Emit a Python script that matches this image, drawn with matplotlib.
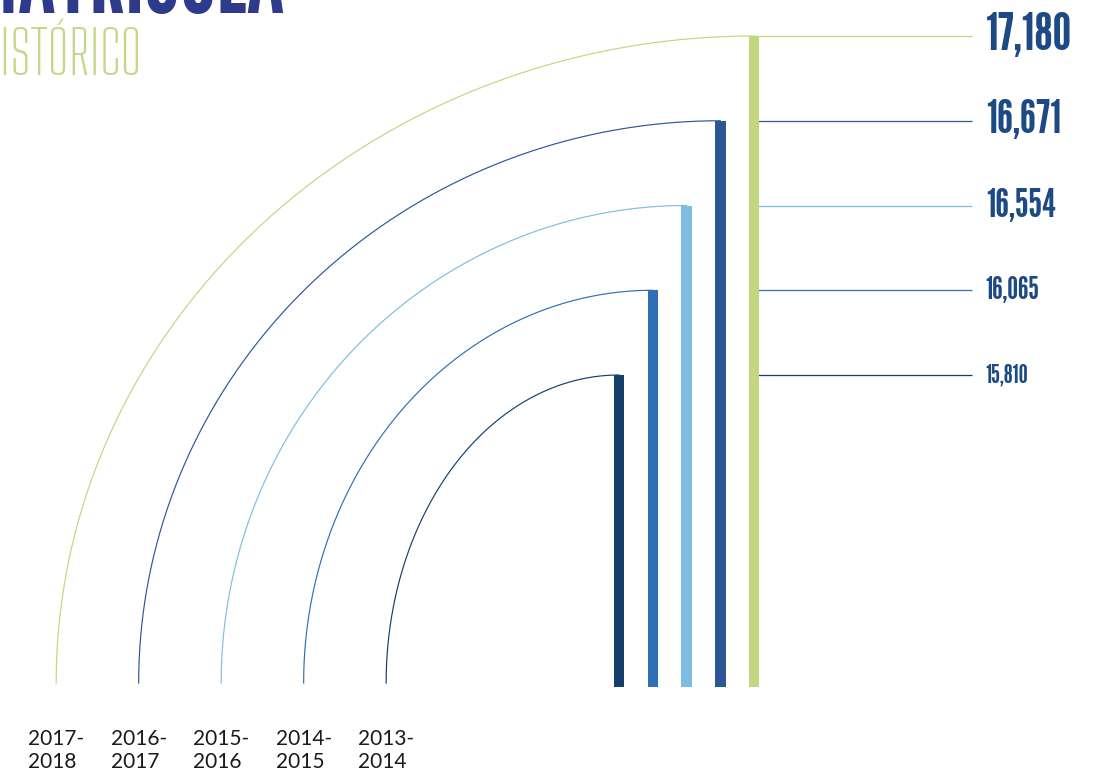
import numpy as np
import matplotlib
matplotlib.use("Agg")
import matplotlib.pyplot as plt
from matplotlib import font_manager as fm

# ---- data ----
periods = ["2013-\n2014", "2014-\n2015", "2015-\n2016", "2016-\n2017", "2017-\n2018"]
enrollment = [15810, 16065, 16554, 16671, 17180]
value_labels = ["15,810", "16,065", "16,554", "16,671", "17,180"]
title_main = "MATRÍCULA"
title_sub = "HISTÓRICO"

# ---- style ----
colors = ["#143f6b", "#2e6fb5", "#7fbde0", "#2c5797", "#c2d77f"]
label_sizes = [18.5, 22, 28.5, 33.5, 38]
num_color = "#1d4a85"

names = {f.name for f in fm.fontManager.ttflist}


def pick(*cands):
    for c in cands:
        if c in names:
            return c
    return "DejaVu Sans"


num_font = pick("League Gothic", "Pathway Gothic One", "Bebas Neue", "Oswald")
thin_font = pick("Big Shoulders Text", "Big Shoulders Display", "Smooch Sans", "Yanone Kaffeesatz")
body_font = pick("Lato", "DejaVu Sans")

W, H = 1104, 771
fig = plt.figure(figsize=(W / 100, H / 100), dpi=100)
ax = fig.add_axes([0, 0, 1, 1])
ax.set_axis_off()

# The design stacks the bars in evenly stepped tiers ordered by enrollment
tier = np.argsort(np.argsort(enrollment)).astype(float)
step = 84.75          # px per tier
top0 = 375.0          # px of the lowest tier top
baseline = -312 / step
ax.set_ylim(-(H - top0) / step, top0 / step)
slot = 33.75          # px per bar slot
ax.set_xlim(-619 / slot, (W - 619) / slot)

n = len(enrollment)
bar_x = np.arange(n, dtype=float)
label_x = -6.9 - 2.444 * np.arange(n)
right_x = (972 - 619) / slot

# leader lines to the right
for i in range(n):
    ax.plot([bar_x[-1], right_x], [tier[i]] * 2,
            color=colors[i], lw=0.9, zorder=1, solid_capstyle="butt")

# arcs from period label up to bar top
t = np.linspace(0, np.pi / 2, 300)
arc_bottom = baseline + 4 / step
for i in range(n):
    rx = bar_x[i] - label_x[i]
    ry = tier[i] - arc_bottom
    ax.plot(bar_x[i] - rx * np.cos(t), arc_bottom + ry * np.sin(t),
            color=colors[i], lw=0.85, zorder=1)

# bars
ax.bar(bar_x, tier - baseline, bottom=baseline, width=10.5 / slot,
       color=colors, zorder=3)

# value labels
for i in range(n):
    ax.annotate(value_labels[i], (right_x, tier[i]), xytext=(10, 0),
                textcoords="offset points", ha="left", va="center",
                fontsize=label_sizes[i], color=num_color, family=num_font)

# period labels
for i in range(n):
    ax.annotate(periods[i], (label_x[i], baseline), xytext=(0, -30),
                textcoords="offset points", ha="center", va="top",
                multialignment="left", fontsize=15, color="#1a1a1a",
                family=body_font, linespacing=1.2)

# titles (partially cut off, as in the reference)
fig.text(285 / W, 1 - 13 / H, title_main, ha="right", va="baseline",
         fontsize=72, color="#2e3a8c", family=num_font)
fig.text(142 / W, 1 - 75 / H, title_sub, ha="right", va="baseline",
         fontsize=43, fontweight=100, color="#c5d88a", family=thin_font)

fig.savefig("out.png", dpi=100)
